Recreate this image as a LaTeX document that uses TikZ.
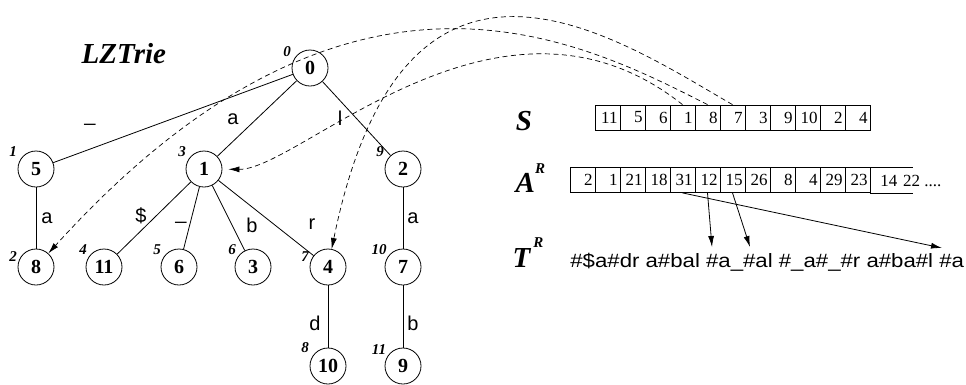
\documentclass[tikz,border=0pt]{standalone}
\usepackage{fontspec}
\setmainfont{Liberation Serif}
\newfontfamily\lblfont{Liberation Sans}
\newfontfamily\trfont[FakeStretch=1.15]{Liberation Sans}
\usetikzlibrary{arrows.meta}
\begin{document}
\begin{tikzpicture}[x=1pt,y=-1pt,line width=0.8pt,>={Latex[length=11pt,width=6pt]},
  dashed/.style={dash pattern=on 5pt off 3.5pt},
  trienode/.style={draw,circle,minimum size=36pt,inner sep=0pt,font=\fontsize{20}{20}\selectfont\bfseries},
  idx/.style={font=\fontsize{15}{15}\selectfont\bfseries\itshape},
  lbl/.style={font=\fontsize{20}{20}\selectfont\lblfont},
  cell/.style={draw,text width=20pt,align=right,inner sep=2.5pt,minimum height=25pt,font=\fontsize{17}{17}\selectfont},
  bigname/.style={font=\fontsize{29}{29}\selectfont\bfseries\itshape}]
\useasboundingbox (0,0) rectangle (966,384);
\node[bigname,anchor=base west] (lz) at (78,63) {LZTrie};
% trie
\node[trienode] (n0) at (310,68) {0};
\node[trienode] (n5) at (36,169) {5};
\node[trienode] (n1) at (204,169) {1};
\node[trienode] (n2) at (403,169) {2};
\node[trienode] (n8) at (36,267) {8};
\node[trienode] (n11) at (104,267) {11};
\node[trienode] (n6) at (179,267) {6};
\node[trienode] (n3) at (253,267) {3};
\node[trienode] (n4) at (328,267) {4};
\node[trienode] (n7) at (403,267) {7};
\node[trienode] (n10) at (328,366) {10};
\node[trienode] (n9) at (403,366) {9};
\draw (n0) -- (n5);
\draw (n0) -- (n1);
\draw (n0) -- (n2);
\draw (n5) -- (n8);
\draw (n1) -- (n11);
\draw (n1) -- (n6);
\draw (n1) -- (n3);
\draw (n1) -- (n4);
\draw (n2) -- (n7);
\draw (n4) -- (n10);
\draw (n7) -- (n9);
\node[idx] (i0) at (287,52) {0};
\node[idx] (i1) at (13,152) {1};
\node[idx] (i3) at (182,152) {3};
\node[idx] (i9) at (380,152) {9};
\node[idx] (i2) at (13,257) {2};
\node[idx] (i4) at (83,250) {4};
\node[idx] (i5) at (157,250) {5};
\node[idx] (i6) at (232,250) {6};
\node[idx] (i7) at (305,257) {7};
\node[idx] (i10) at (379,250) {10};
\node[idx] (i8) at (305,348) {8};
\node[idx] (i11) at (379,350) {11};
\node[lbl] (e05) at (90,123) {\_};
\node[lbl] (e01) at (233,119) {a};
\node[lbl] (e02) at (340,118) {l};
\node[lbl] (e58) at (47,218) {a};
\node[lbl] (e111) at (141,216) {\$};
\node[lbl] (e16) at (181,221) {\_};
\node[lbl] (e13) at (252,225) {b};
\node[lbl] (e14) at (312,224) {r};
\node[lbl] (e27) at (413,218) {a};
\node[lbl] (e410) at (315,323) {d};
\node[lbl] (e79) at (413,323) {b};
% arrays
\node[bigname] (labs) at (524,121) {S};
\node[bigname,anchor=base west] (laba) at (512,192) {A\raisebox{19pt}{\fontsize{15}{15}\selectfont R}};
\node[bigname,anchor=base west] (labt) at (509,267) {T\hspace{3pt}\raisebox{20pt}{\fontsize{15}{15}\selectfont R}};
\node[cell] (s1) at (607.5,117.5) {11};
\node[cell] (s2) at (632.5,117.5) {5};
\node[cell] (s3) at (657.5,117.5) {6};
\node[cell] (s4) at (682.5,117.5) {1};
\node[cell] (s5) at (707.5,117.5) {8};
\node[cell] (s6) at (732.5,117.5) {7};
\node[cell] (s7) at (757.5,117.5) {3};
\node[cell] (s8) at (782.5,117.5) {9};
\node[cell] (s9) at (807.5,117.5) {10};
\node[cell] (s10) at (832.5,117.5) {2};
\node[cell] (s11) at (857.5,117.5) {4};
\node[cell] (a1) at (582.5,180) {2};
\node[cell] (a2) at (607.5,180) {1};
\node[cell] (a3) at (632.5,180) {21};
\node[cell] (a4) at (657.5,180) {18};
\node[cell] (a5) at (682.5,180) {31};
\node[cell] (a6) at (707.5,180) {12};
\node[cell] (a7) at (732.5,180) {15};
\node[cell] (a8) at (757.5,180) {26};
\node[cell] (a9) at (782.5,180) {8};
\node[cell] (a10) at (807.5,180) {4};
\node[cell] (a11) at (832.5,180) {29};
\node[cell] (a12) at (857.5,180) {23};
\node[anchor=base west,inner sep=0pt,font=\fontsize{17}{17}\selectfont] (arest) at (880,186) {14\,\,22 ....};
\draw (a12.north east) -- ++(43,0);
\draw (a12.south east) -- ++(43,0);
\node[anchor=base west,inner sep=0pt,font=\fontsize{19.3}{19.3}\selectfont\trfont] (tr) at (570,267) {\#\$a\#dr a\#bal \#a\_\#al \#\_a\#\_\#r a\#ba\#l \#a};
\coordinate (t12) at (712,247);
\coordinate (t15) at (750,247);
\coordinate (t31) at (942,248);
\draw[->] (a6.south) -- (t12);
\draw[->] (a7.south) -- (t15);
\draw[->] (a5.south) -- (t31);
% links from S into the trie
\draw[dashed,->,line width=0.7pt,shorten >=6pt] (s4.north) .. controls (500,-40) and (300,170) .. (n1);
\draw[dashed,->,line width=0.7pt] (s5.north) .. controls (580,40) and (350,-80) .. (n8);
\draw[dashed,->,line width=0.7pt] (s6.north) .. controls (620,40) and (405,-110) .. (n4);
\end{tikzpicture}
\end{document}
